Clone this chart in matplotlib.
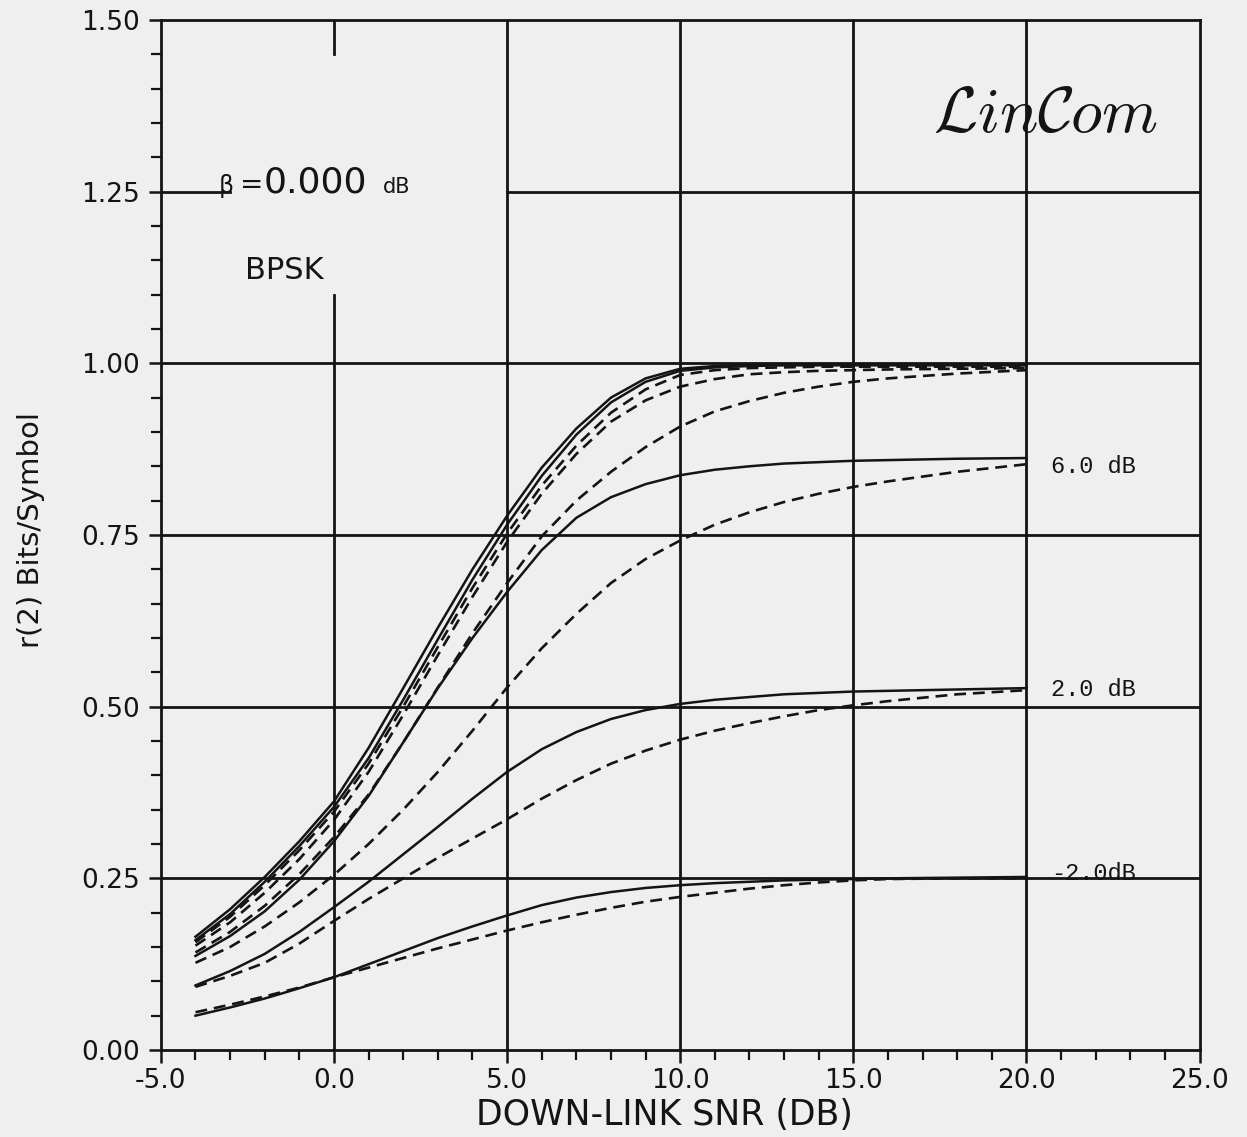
import numpy as np
import matplotlib
matplotlib.use('Agg')
import matplotlib.pyplot as plt

# r(2) vs down-link SNR, BPSK, beta = 0 dB
plt.rcParams['mathtext.fontset'] = 'cm'

snr = [-4, -3, -2, -1, 0, 1, 2, 3, 4, 5, 6, 7, 8, 9, 10, 11, 12, 13, 14, 15, 16, 18, 20]

# upper family (asymptote ~1.0), solid curves
top_a = [.165, .205, .252, .304, .362, .440, .527, .615, .700, .778, .848, .905, .950, .978, .992, .996, .998, .998, .998, .998, .998, .998, .998]
top_b = [.160, .198, .245, .297, .354, .425, .510, .598, .685, .765, .836, .896, .943, .973, .989, .994, .996, .997, .997, .997, .997, .997, .997]
# upper family, dashed curves
top_c = [.157, .194, .240, .291, .347, .417, .500, .587, .673, .752, .822, .880, .928, .962, .983, .990, .993, .994, .995, .995, .995, .995, .995]
top_d = [.152, .186, .229, .278, .335, .405, .488, .575, .660, .740, .810, .868, .915, .946, .966, .977, .984, .987, .989, .990, .991, .992, .993]
top_e = [.142, .172, .210, .256, .310, .372, .448, .528, .607, .680, .748, .800, .842, .878, .908, .930, .945, .957, .966, .973, .978, .985, .990]

# 6.0 dB
db6_solid = [.137, .166, .202, .248, .304, .370, .448, .527, .600, .667, .728, .775, .805, .824, .837, .845, .850, .854, .856, .858, .859, .861, .862]
db6_dash = [.127, .150, .180, .215, .255, .300, .350, .405, .465, .528, .585, .635, .680, .715, .742, .765, .783, .798, .810, .820, .828, .842, .853]

# 2.0 dB
db2_solid = [.094, .115, .140, .172, .208, .245, .285, .325, .366, .405, .438, .463, .482, .495, .504, .510, .514, .518, .520, .522, .523, .525, .527]
db2_dash = [.092, .108, .127, .155, .188, .220, .250, .280, .308, .336, .366, .393, .417, .436, .452, .465, .476, .486, .495, .502, .508, .518, .524]

# -2.0 dB
dbm2_solid = [.050, .062, .075, .090, .106, .125, .144, .163, .180, .196, .211, .222, .230, .236, .240, .243, .245, .247, .248, .249, .250, .251, .252]
dbm2_dash = [.055, .066, .078, .091, .106, .120, .134, .148, .161, .174, .186, .197, .207, .216, .223, .229, .235, .240, .244, .247, .249, .250, .250]

solid_curves = [top_a, top_b, db6_solid, db2_solid, dbm2_solid]
dashed_curves = [top_c, top_d, top_e, db6_dash, db2_dash, dbm2_dash]

curve_labels = ['6.0 dB', '2.0 dB', '-2.0dB']
label_y = [0.85, 0.525, 0.257]

x_ticks = [-5, 0, 5, 10, 15, 20, 25]
y_ticks = [0.0, 0.25, 0.5, 0.75, 1.0, 1.25, 1.5]

ink = '#141414'
paper = '#efefef'
plot_font = ['Liberation Sans Narrow', 'DejaVu Sans']

fig = plt.figure(figsize=(12.47, 11.37), dpi=100, facecolor=paper)
ax = fig.add_axes([0.129, 0.0765, 0.833, 0.906])
ax.set_facecolor(paper)
ax.set_xlim(-5, 25)
ax.set_ylim(0, 1.5)

# grid (some lines broken where the labels sit)
for yv in y_ticks[1:5]:
    ax.axhline(yv, color=ink, lw=2.0, zorder=1)
ax.axhline(1.25, xmin=0, xmax=2/30, color=ink, lw=2.0, zorder=1)
ax.axhline(1.25, xmin=10/30, xmax=1, color=ink, lw=2.0, zorder=1)
for xv in x_ticks[2:6]:
    ax.axvline(xv, color=ink, lw=2.0, zorder=1)
ax.axvline(0, ymin=0, ymax=1.10/1.5, color=ink, lw=2.0, zorder=1)
ax.axvline(0, ymin=1.45/1.5, ymax=1, color=ink, lw=2.0, zorder=1)

for c in solid_curves:
    ax.plot(snr, c, color=ink, lw=1.8, zorder=3)
for c in dashed_curves:
    ax.plot(snr, c, color=ink, lw=1.9, linestyle=(0, (4.5, 2.6)), zorder=3)

for lab, yv in zip(curve_labels, label_y):
    ax.text(20.7, yv, lab, family='Liberation Mono', fontsize=17, color=ink,
            ha='left', va='center', zorder=4)

# ticks
ax.set_xticks(x_ticks)
ax.set_xticklabels(['%.1f' % v for v in x_ticks])
ax.set_xticks(np.arange(-5, 26, 1), minor=True)
ax.set_yticks(y_ticks)
ax.set_yticklabels(['%.2f' % v for v in y_ticks])
ax.set_yticks(np.arange(0, 1.51, 0.05), minor=True)
ax.tick_params(which='major', direction='out', length=9, width=1.8, color=ink,
               labelsize=19, labelcolor=ink, pad=4)
ax.tick_params(which='minor', direction='out', length=7, width=1.6, color=ink)
ax.tick_params(axis='y', which='major', pad=6)
for t in ax.get_xticklabels() + ax.get_yticklabels():
    t.set_family(plot_font)
for s in ax.spines.values():
    s.set_linewidth(2.0)
    s.set_color(ink)

# annotations
ax.text(-3.32, 1.248, 'β', fontsize=17, color=ink, ha='left', va='baseline')
ax.text(-2.72, 1.248, '=', fontsize=20, color=ink, ha='left', va='baseline')
ax.text(-2.02, 1.248, '0.000', fontsize=26, color=ink, ha='left', va='baseline')
ax.text(1.42, 1.248, 'dB', fontsize=15, color=ink, ha='left', va='baseline')
ax.text(-2.58, 1.122, 'BPSK', fontsize=22, color=ink, ha='left', va='baseline')
ax.text(17.3, 1.337, r'$\mathcal{L}in\mathcal{C}om$', fontsize=46, color=ink,
        ha='left', va='baseline')

fig.text(0.025, 0.534, 'r(2) Bits/Symbol', rotation=90, fontsize=21, color=ink,
         ha='center', va='center', family=plot_font)
fig.text(0.533, 0.019, 'DOWN-LINK SNR (DB)', fontsize=25, color=ink,
         ha='center', va='center', family=plot_font)

fig.savefig('out.png', dpi=100, facecolor=paper)
